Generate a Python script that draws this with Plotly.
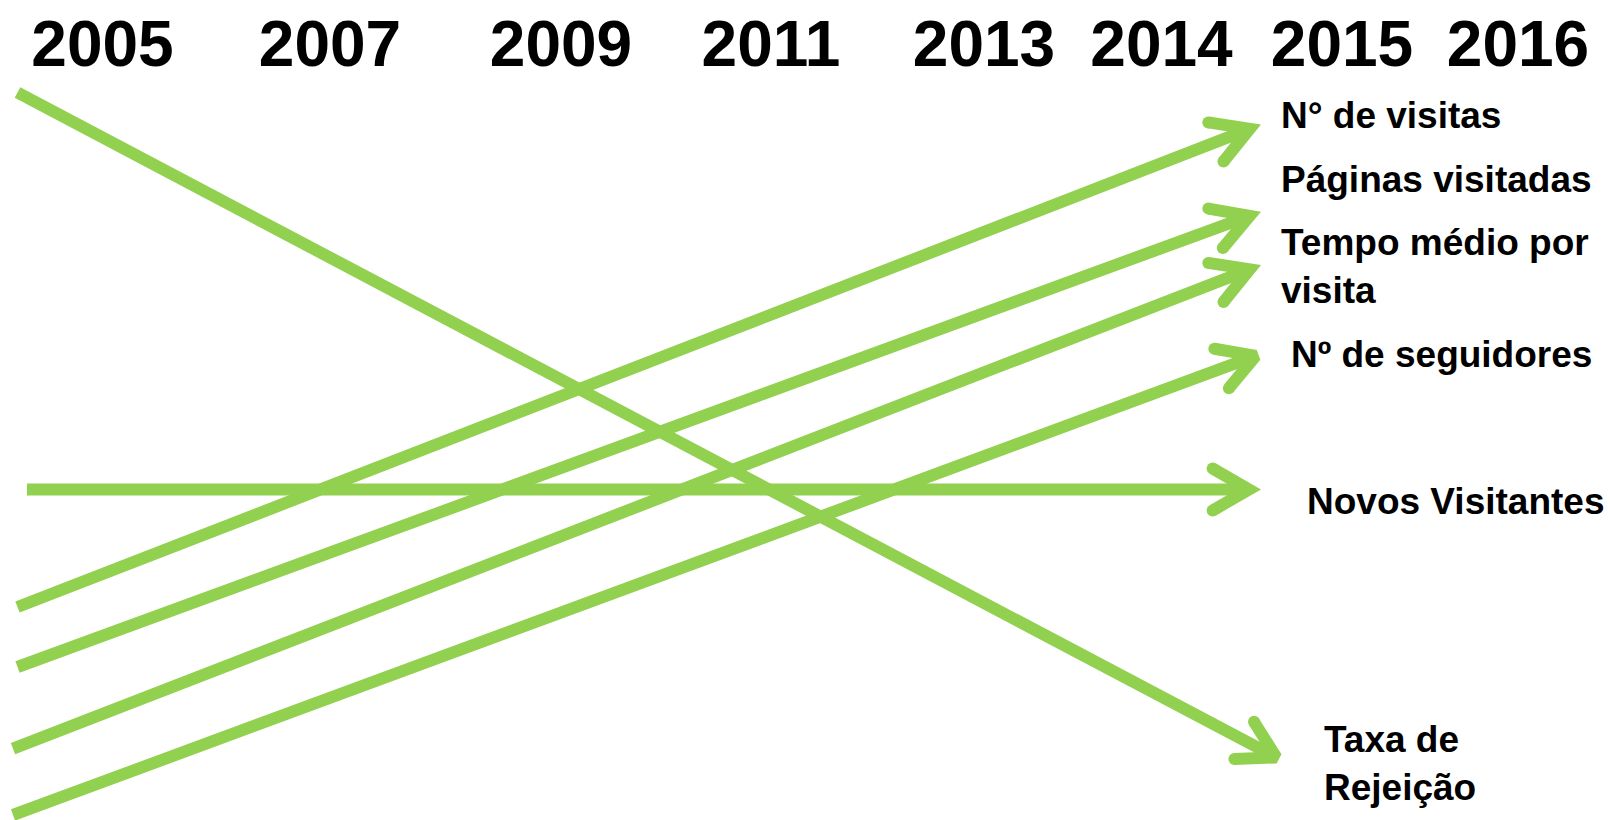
import math
import plotly.graph_objects as go

# ---- data (timeline units: x = position along the timeline, y = level) ----
years = ["2005", "2007", "2009", "2011", "2013", "2014", "2015", "2016"]
year_pos = [10.25, 33.0, 56.1, 77.1, 98.4, 116.15, 134.2, 151.8]

series_names = ["N° de visitas", "Páginas visitadas", "Tempo médio por<br>visita",
                "Nº de seguidores", "Novos Visitantes", "Taxa de<br>Rejeição"]
start_x = [1.75, 1.75, 1.3, 1.3, 2.7, 1.75]
start_y = [21.3, 15.3, 7.13, 0.5, 33.05, 72.75]
end_x = [126.1, 126.1, 126.1, 126.7, 126.1, 128.7]
end_y = [69.55, 60.83, 55.5, 46.83, 33.05, 5.7]

label_x = [127.9, 127.9, 127.9, 128.9, 130.5, 132.2]
label_y = [70.45, 64.05, 55.4, 46.6, 31.85, 5.65]

# ---- style ----
GREEN = "#92D050"
LW = 12            # line width px
UNIT_PX = 10.0     # px per data unit (isotropic)
HALF_ANGLE = math.radians(30)
ARM = 42 / UNIT_PX
MITER = (LW / 2) / math.sin(HALF_ANGLE) / UNIT_PX

fig = go.Figure()

for i in range(len(series_names)):
    x0, y0, x1, y1 = start_x[i], start_y[i], end_x[i], end_y[i]
    dx, dy = x1 - x0, y1 - y0
    L = math.hypot(dx, dy)
    ux, uy = dx / L, dy / L
    # centerline tip (visible miter point lies at the data end)
    tx, ty = x1 - MITER * ux, y1 - MITER * uy
    # back direction rotated +/- half angle
    bx, by = -ux, -uy
    arms = []
    for s in (1, -1):
        a = s * HALF_ANGLE
        rx = bx * math.cos(a) - by * math.sin(a)
        ry = bx * math.sin(a) + by * math.cos(a)
        arms.append((tx + ARM * rx, ty + ARM * ry))
    # shaft
    fig.add_trace(go.Scatter(x=[x0, tx], y=[y0, ty], mode="lines",
                             line=dict(color=GREEN, width=LW), hoverinfo="skip",
                             showlegend=False))
    # open arrow head
    fig.add_trace(go.Scatter(x=[arms[0][0], tx, arms[1][0]],
                             y=[arms[0][1], ty, arms[1][1]], mode="lines",
                             line=dict(color=GREEN, width=LW), hoverinfo="skip",
                             showlegend=False))
    fig.add_trace(go.Scatter(x=[arms[0][0], arms[1][0]],
                             y=[arms[0][1], arms[1][1]], mode="markers",
                             marker=dict(color=GREEN, size=LW, line=dict(width=0)),
                             hoverinfo="skip", showlegend=False))
    fig.add_annotation(x=label_x[i], y=label_y[i], text=series_names[i],
                       xref="x", yref="y", xanchor="left", yanchor="middle",
                       align="left", showarrow=False,
                       font=dict(family="Liberation Sans, Arial", size=37,
                                 color="black", weight="bold"))

fig.update_xaxes(range=[0, 161], tickvals=year_pos, ticktext=years, side="top",
                 showgrid=False, zeroline=False, showline=False, ticks="",
                 tickfont=dict(family="Liberation Sans, Arial", size=64,
                               color="black", weight="bold"),
                 fixedrange=True)
fig.update_yaxes(range=[0, 74], visible=False, showgrid=False, zeroline=False,
                 fixedrange=True)

fig.update_layout(width=1610, height=820,
                  margin=dict(l=0, r=0, t=80, b=0),
                  paper_bgcolor="white", plot_bgcolor="white",
                  showlegend=False)

fig.write_html("out.html", config={"displayModeBar": False},
               post_script="document.body.style.margin='0';document.body.style.overflow='hidden';")
